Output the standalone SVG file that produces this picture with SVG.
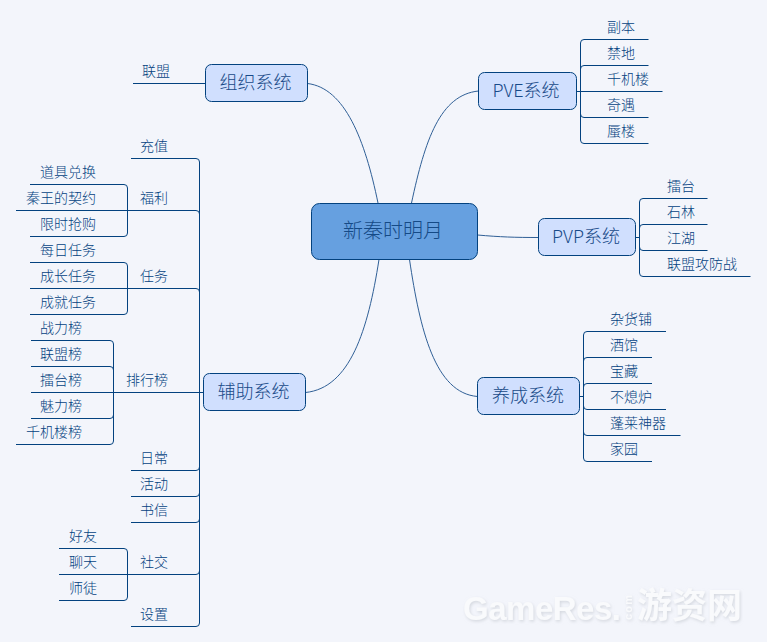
<svg xmlns="http://www.w3.org/2000/svg" width="767" height="642" viewBox="0 0 767 642">
<style>
text{font-family:"Noto Sans CJK SC","Liberation Sans",sans-serif;fill:#03427f;text-anchor:middle}
.l{font-size:14px}
.l text{font-weight:300}
.m{font-size:18px;fill:#184a88;font-weight:300}
.c{font-size:20px;fill:#154a86;font-weight:300}
.n{fill:#d0dffe;stroke:#03427f;stroke-width:1}
.b{fill:none;stroke:#03427f;stroke-width:1}
.k{fill:none;stroke:#2f5f96;stroke-width:1}
.w{font-family:"Liberation Sans",sans-serif;font-weight:bold;fill:#f9fafc;text-anchor:start}
.wc{font-family:"Noto Sans CJK SC",sans-serif;font-weight:bold;fill:#f9fafc;text-anchor:start}
</style>
<defs><filter id="s" x="-10%" y="-30%" width="120%" height="160%"><feDropShadow dx="1" dy="1.5" stdDeviation="1.5" flood-color="#bcc0c8" flood-opacity="0.55"/></filter></defs>
<rect width="767" height="642" fill="#f3f5fb"/>
<g id="watermark" filter="url(#s)">
<text class="w" x="463" y="620" font-size="33" textLength="158">GameRes.</text>
<text class="w" transform="translate(632 620) rotate(-90)" font-size="11" textLength="25">com</text>
<text class="wc" x="637" y="618" font-size="35" textLength="105">游资网</text>
</g>
<g id="connectors">
<path class="k" d="M411.5 203C425 140 440 95 478.5 91"/>
<path class="k" d="M378 203C365 140 345 88 307.5 83.5"/>
<path class="k" d="M477.5 235C500 237 515 237.5 538.5 237.5"/>
<path class="k" d="M409.5 259.5C420 330 435 393 477.5 396.5"/>
<path class="k" d="M379 259.5C368 330 350 388 305.5 392.5"/>
<path class="b" d="M648.5 39.5H584Q580.5 39.5 580.5 43V140Q580.5 143.5 584 143.5H648.5M648.5 65.5H584Q580.5 65.5 580.5 69M576.5 91.5H662.5M648.5 117.5H584Q580.5 117.5 580.5 114"/>
<path class="b" d="M707.5 198.5H643Q639.5 198.5 639.5 202V273Q639.5 276.5 643 276.5H750.5M707.5 224.5H643Q639.5 224.5 639.5 228M707.5 250.5H643Q639.5 250.5 639.5 247M635.5 237.5H639.5"/>
<path class="b" d="M666 331.5H587Q583.5 331.5 583.5 335V458Q583.5 461.5 587 461.5H652M652 357.5H587Q583.5 357.5 583.5 361M652 383.5H587Q583.5 383.5 583.5 387M666 409.5H587Q583.5 409.5 583.5 406M680.5 435.5H587Q583.5 435.5 583.5 432M579.5 396.5H583.5"/>
<path class="b" d="M133 83.5H205.5"/>
<path class="b" d="M131 158.5H196Q199.5 158.5 199.5 162V623Q199.5 626.5 196 626.5H131M16 210.5H196Q199.5 210.5 199.5 214M30 288.5H196Q199.5 288.5 199.5 292M31 392.5H203.5M131 470.5H196Q199.5 470.5 199.5 467M131 496.5H196Q199.5 496.5 199.5 493M131 522.5H196Q199.5 522.5 199.5 519M59 574.5H196Q199.5 574.5 199.5 571"/>
<path class="b" d="M30 184.5H124Q127.5 184.5 127.5 188V233Q127.5 236.5 124 236.5H30"/>
<path class="b" d="M30 262.5H124Q127.5 262.5 127.5 266V311Q127.5 314.5 124 314.5H30"/>
<path class="b" d="M31 340.5H110Q113.5 340.5 113.5 344V441Q113.5 444.5 110 444.5H16M31 366.5H110Q113.5 366.5 113.5 370M31 418.5H110Q113.5 418.5 113.5 415"/>
<path class="b" d="M59 548.5H124Q127.5 548.5 127.5 552V597Q127.5 600.5 124 600.5H59"/>
</g>
<g id="center"><rect x="311.5" y="203.5" width="166" height="56" rx="8" fill="#66a0e0" stroke="#03427f"/><text class="c" x="393" y="238">新秦时明月</text></g>
<g id="pve"><rect class="n" x="478.5" y="72.5" width="98" height="37" rx="6"/><text class="m" x="526" y="97">PVE系统</text></g>
<g id="pvp"><rect class="n" x="538.5" y="218.5" width="97" height="37" rx="6"/><text class="m" x="586" y="243">PVP系统</text></g>
<g id="yangcheng"><rect class="n" x="477.5" y="377.5" width="102" height="37" rx="6"/><text class="m" x="528" y="402">养成系统</text></g>
<g id="zuzhi"><rect class="n" x="205.5" y="64.5" width="102" height="37" rx="6"/><text class="m" x="255.5" y="89">组织系统</text></g>
<g id="fuzhu"><rect class="n" x="203.5" y="373.5" width="102" height="37" rx="6"/><text class="m" x="253.5" y="398">辅助系统</text></g>
<g id="leaves" class="l">
<text x="621" y="32">副本</text><text x="621" y="58">禁地</text><text x="628" y="84">千机楼</text><text x="621" y="110">奇遇</text><text x="621" y="136">蜃楼</text>
<text x="681" y="191">擂台</text><text x="681" y="217">石林</text><text x="681" y="243">江湖</text><text x="702" y="269">联盟攻防战</text>
<text x="631" y="324">杂货铺</text><text x="624" y="350">酒馆</text><text x="624" y="376">宝藏</text><text x="631" y="402">不熄炉</text><text x="638" y="428">蓬莱神器</text><text x="624" y="454">家园</text>
<text x="156" y="76">联盟</text><text x="154" y="151">充值</text><text x="154" y="203">福利</text><text x="154" y="281">任务</text><text x="147" y="385">排行榜</text><text x="154" y="463">日常</text><text x="154" y="489">活动</text><text x="154" y="515">书信</text><text x="154" y="567">社交</text><text x="154" y="619">设置</text>
<text x="68" y="177">道具兑换</text><text x="61" y="203">秦王的契约</text><text x="68" y="229">限时抢购</text>
<text x="68" y="255">每日任务</text><text x="68" y="281">成长任务</text><text x="68" y="307">成就任务</text>
<text x="61" y="333">战力榜</text><text x="61" y="359">联盟榜</text><text x="61" y="385">擂台榜</text><text x="61" y="411">魅力榜</text><text x="54" y="437">千机楼榜</text>
<text x="83" y="541">好友</text><text x="83" y="567">聊天</text><text x="83" y="593">师徒</text>
</g>
</svg>
